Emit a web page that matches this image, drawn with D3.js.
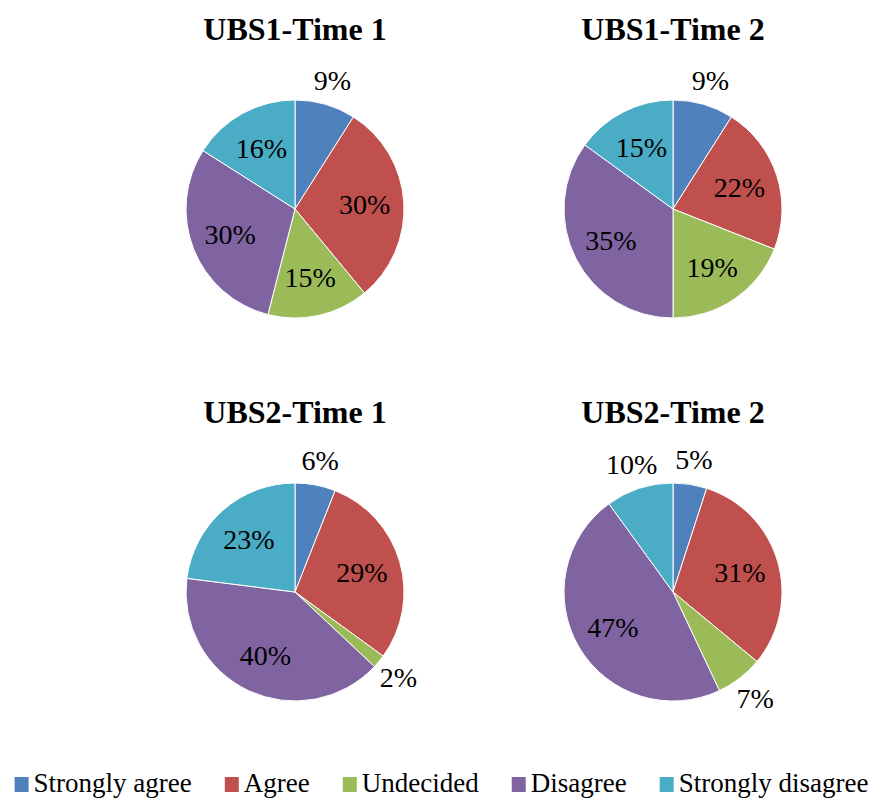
<!DOCTYPE html>
<html>
<head>
<meta charset="utf-8">
<script src="https://cdn.jsdelivr.net/npm/d3@7"></script>
<style>
  body { margin: 0; background: #fff; }
  text { font-family: "Liberation Serif", "Times New Roman", serif; fill: #000; }
</style>
</head>
<body>
<div id="chart"></div>
<script>
var categories = ["Strongly agree", "Agree", "Undecided", "Disagree", "Strongly disagree"];
var colors = ["#4F81BD", "#C0504D", "#9BBB59", "#8064A2", "#4BACC6"];

var titles = ["UBS1-Time 1", "UBS1-Time 2", "UBS2-Time 1", "UBS2-Time 2"];
var ubs1Time1 = [9, 30, 15, 30, 16];
var ubs1Time2 = [9, 22, 19, 35, 15];
var ubs2Time1 = [6, 29, 2, 40, 23];
var ubs2Time2 = [5, 31, 7, 47, 10];
var series = [ubs1Time1, ubs1Time2, ubs2Time1, ubs2Time2];

var width = 873, height = 799;
var radius = 109;
var colX = [295, 673], rowY = [209, 592];

var svg = d3.select("#chart")
  .append("svg")
  .attr("width", width)
  .attr("height", height);

var color = d3.scaleOrdinal().domain(categories).range(colors);

var pie = d3.pie()
  .sort(null)
  .value(function(d) { return d.value; });

var arc = d3.arc().innerRadius(0).outerRadius(radius);
var inLabel = d3.arc().innerRadius(radius * 0.64).outerRadius(radius * 0.64);
var outLabel = d3.arc().innerRadius(radius * 1.23).outerRadius(radius * 1.23);

series.forEach(function(values, i) {
  var cx = colX[i % 2], cy = rowY[Math.floor(i / 2)];
  var data = values.map(function(v, j) { return { cat: categories[j], value: v }; });

  var g = svg.append("g")
    .attr("transform", "translate(" + cx + "," + cy + ")");

  g.append("text")
    .attr("x", 0)
    .attr("y", -radius - 60)
    .attr("text-anchor", "middle")
    .style("font-size", "32px")
    .style("font-weight", "bold")
    .text(titles[i]);

  var slices = pie(data);

  g.selectAll("path")
    .data(slices)
    .enter()
    .append("path")
    .attr("d", arc)
    .attr("fill", function(d) { return color(d.data.cat); })
    .attr("stroke", "#fff")
    .attr("stroke-width", 1);

  g.selectAll(".lbl")
    .data(slices)
    .enter()
    .append("text")
    .attr("class", "lbl")
    .attr("transform", function(d) {
      var p = d.data.value <= 10 ? outLabel.centroid(d) : inLabel.centroid(d);
      return "translate(" + p[0] + "," + p[1] + ")";
    })
    .attr("text-anchor", "middle")
    .attr("dy", "0.35em")
    .style("font-size", "28px")
    .text(function(d) { return d.data.value + "%"; });
});

// legend
var legend = svg.append("g").attr("class", "legend");
var x = 0;
categories.forEach(function(c) {
  var item = legend.append("g").attr("transform", "translate(" + x + ",0)");
  item.append("rect")
    .attr("x", 0)
    .attr("y", -15)
    .attr("width", 14)
    .attr("height", 15)
    .attr("fill", color(c));
  var t = item.append("text")
    .attr("x", 19)
    .attr("y", 0)
    .style("font-size", "27px")
    .text(c);
  x += 19 + t.node().getComputedTextLength() + 33;
});
var total = x - 33;
legend.attr("transform", "translate(" + ((width - total) / 2 + 5) + ",792)");
</script>
</body>
</html>
